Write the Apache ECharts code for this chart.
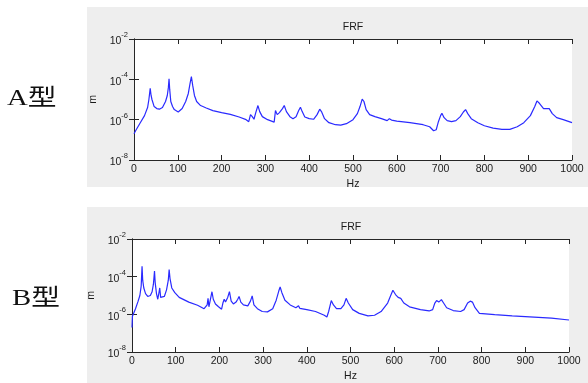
<!DOCTYPE html>
<html>
<head>
<meta charset="utf-8">
<script src="https://cdn.jsdelivr.net/npm/echarts@6/dist/echarts.min.js"></script>
<style>
html,body{margin:0;padding:0;background:#fff;}
#c{width:588px;height:383px;}
</style>
</head>
<body>
<div id="c"></div>
<script>
// Frequency (Hz) and log10 of amplitude (m)
const freqA = [0,5,13,24,31,34,37,39,41,46,52,58,65,72,76,78.5,80,81.5,84,88,92,96,101,110,118,124,128,131,134,138,143,152,165,180,200,220,240,256,262,266,270,274,278,283,287,293,305,320,323,327,332,339,343,348,356,363,370,376,380,384,390,400,410,418,424,428,435,445,460,472,485,500,510,516,521,525,530,538,550,565,578,583,588,600,630,660,675,684,690,695,700,703,708,715,725,735,745,752,757,762,770,785,800,820,840,858,875,890,905,915,920,926,935,942,948,955,965,980,1000];
const logA = [-6.7,-6.5,-6.2,-5.8,-5.4,-5.0,-4.45,-4.8,-5.0,-5.35,-5.45,-5.48,-5.4,-5.1,-4.8,-4.4,-3.97,-4.5,-5.1,-5.35,-5.5,-5.43,-5.62,-5.45,-5.1,-4.7,-4.2,-3.86,-4.3,-4.8,-5.1,-5.3,-5.42,-5.55,-5.65,-5.74,-5.87,-6.0,-6.1,-5.75,-5.85,-5.98,-5.65,-5.3,-5.6,-5.85,-6.0,-6.12,-5.55,-5.75,-5.65,-5.45,-5.3,-5.6,-5.85,-5.95,-5.85,-5.55,-5.38,-5.6,-5.87,-5.95,-5.98,-5.75,-5.48,-5.6,-5.95,-6.15,-6.25,-6.27,-6.2,-6.0,-5.7,-5.35,-4.98,-5.1,-5.5,-5.75,-5.85,-5.95,-6.05,-5.95,-6.02,-6.07,-6.15,-6.25,-6.35,-6.55,-6.5,-6.1,-5.8,-5.68,-5.9,-6.05,-6.1,-6.05,-5.85,-5.62,-5.5,-5.7,-5.95,-6.15,-6.3,-6.42,-6.48,-6.48,-6.35,-6.15,-5.8,-5.35,-5.07,-5.2,-5.45,-5.45,-5.45,-5.7,-5.9,-6.0,-6.15];

const freqB = [0,1,3,8,14,18,21,23,24.5,27,31,36,42,46,49,51.5,53,56,59,62,63.5,65.5,69,74,79,83,85,87,91,98,108,130,150,165,169,172,174,176,179,183,186,191,198,205,208,211,214,219,223,227,232,238,242,245,249,255,265,271,275,279,287,298,310,322,330,336,339,343,350,362,375,379,381,384,400,420,440,446,450,456,461,468,478,485,490,495,505,520,540,555,570,585,592,597,603,609,615,622,635,660,680,688,693,697,702,708,713,720,735,752,760,768,774,779,785,795,830,870,910,960,1000];
const logB = [-6.7,-6.1,-6.0,-5.7,-5.3,-5.0,-4.5,-3.45,-4.2,-4.6,-4.9,-5.05,-5.0,-4.8,-4.4,-3.7,-4.3,-4.9,-5.2,-4.8,-4.6,-5.1,-5.2,-5.05,-4.7,-4.2,-3.62,-4.1,-4.6,-4.85,-5.1,-5.35,-5.52,-5.7,-5.75,-5.5,-5.15,-5.6,-5.55,-4.8,-5.2,-5.45,-5.6,-5.73,-5.4,-5.2,-5.35,-5.1,-4.8,-5.3,-5.45,-5.35,-5.2,-5.05,-5.35,-5.5,-5.55,-5.3,-5.02,-5.5,-5.7,-5.85,-5.87,-5.7,-5.25,-4.75,-4.55,-4.85,-5.25,-5.5,-5.65,-5.6,-5.55,-5.68,-5.75,-5.85,-6.05,-6.14,-5.85,-5.27,-5.5,-5.7,-5.7,-5.5,-5.15,-5.4,-5.75,-5.95,-6.08,-6.05,-5.85,-5.4,-5.0,-4.72,-4.95,-5.1,-5.15,-5.4,-5.6,-5.75,-5.82,-5.75,-5.4,-5.27,-5.35,-5.22,-5.4,-5.65,-5.8,-5.85,-5.75,-5.4,-5.3,-5.35,-5.65,-5.95,-6.02,-6.08,-6.13,-6.2,-6.3];

const xTicks = [0,100,200,300,400,500,600,700,800,900,1000];
const yExponents = [-8,-6,-4,-2];
const panelTitles = ['FRF','FRF'];
const sideLabels = ['A型','B型'];

const toPairs = (f, l) => f.map((x, i) => [x, Math.pow(10, l[i])]);

const axisColor = '#262626';
const labelFont = {fontFamily: 'Liberation Sans, Arial, sans-serif', fontSize: 10.5, color: '#1a1a1a'};

const grids = [
  {left: 134, top: 39, width: 438, height: 121},
  {left: 132, top: 239, width: 437, height: 121}
];

const yMin = Math.pow(10, yExponents[0]);
const yMax = Math.pow(10, yExponents[yExponents.length-1]);
const yStep = yExponents[1] - yExponents[0];

const xAxes = [], yAxes = [], series = [];
grids.forEach((g, i) => {
  xAxes.push({
    gridIndex: i, type: 'value', min: xTicks[0], max: xTicks[xTicks.length-1], interval: xTicks[1] - xTicks[0],
    name: 'Hz', nameLocation: 'middle', nameGap: 19,
    nameTextStyle: {fontFamily: labelFont.fontFamily, fontSize: 10.5, color: '#1a1a1a'},
    axisLine: {show: true, lineStyle: {color: axisColor, width: 1}},
    axisTick: {show: true, inside: true, length: 5, lineStyle: {color: axisColor}},
    axisLabel: Object.assign({margin: 4, formatter: v => String(v)}, labelFont),
    splitLine: {show: false}
  });
  xAxes.push({
    gridIndex: i, type: 'value', position: 'top', min: xTicks[0], max: xTicks[xTicks.length-1], interval: xTicks[1] - xTicks[0],
    axisLine: {show: true, lineStyle: {color: axisColor, width: 1}},
    axisTick: {show: true, inside: true, length: 5, lineStyle: {color: axisColor}},
    axisLabel: {show: false}, splitLine: {show: false}
  });
  yAxes.push({
    gridIndex: i, type: 'log', logBase: 10, min: yMin, max: yMax, interval: yStep,
    name: 'm', nameLocation: 'middle', nameGap: 34, nameRotate: 90,
    nameTextStyle: {fontFamily: labelFont.fontFamily, fontSize: 10.5, color: '#1a1a1a'},
    axisLine: {show: true, lineStyle: {color: axisColor, width: 1}},
    axisTick: {show: true, inside: true, length: 5, lineStyle: {color: axisColor}},
    axisLabel: {
      margin: 6,
      formatter: v => '{b|10}{s|' + Math.round(Math.log10(v)) + '}',
      rich: {
        b: {fontFamily: labelFont.fontFamily, fontSize: 10.5, color: '#1a1a1a', lineHeight: 16, verticalAlign: 'bottom'},
        s: {fontFamily: labelFont.fontFamily, fontSize: 7.5, color: '#1a1a1a', verticalAlign: 'top', lineHeight: 16}
      }
    },
    splitLine: {show: false}
  });
  yAxes.push({
    gridIndex: i, type: 'log', logBase: 10, position: 'right', min: yMin, max: yMax, interval: yStep,
    axisLine: {show: true, lineStyle: {color: axisColor, width: 1}},
    axisTick: {show: true, inside: true, length: 5, lineStyle: {color: axisColor}},
    axisLabel: {show: false}, splitLine: {show: false}
  });
});

series.push({
  type: 'line', xAxisIndex: 0, yAxisIndex: 0, showSymbol: false, symbol: 'none',
  lineStyle: {color: '#2a2aff', width: 1.2}, data: toPairs(freqA, logA), silent: true
});
series.push({
  type: 'line', xAxisIndex: 2, yAxisIndex: 2, showSymbol: false, symbol: 'none',
  lineStyle: {color: '#2a2aff', width: 1.2}, data: toPairs(freqB, logB), silent: true
});

const chart = echarts.init(document.getElementById('c'), null, {renderer: 'canvas'});
chart.setOption({
  animation: false,
  backgroundColor: '#ffffff',
  grid: grids.map(g => Object.assign({show: true, backgroundColor: '#ffffff', borderWidth: 0}, g)),
  xAxis: xAxes,
  yAxis: yAxes,
  series: series,
  graphic: [
    {type: 'rect', z: -10, silent: true, shape: {x: 87, y: 7, width: 501, height: 180}, style: {fill: '#eeeeee'}},
    {type: 'rect', z: -10, silent: true, shape: {x: 87, y: 207, width: 501, height: 176}, style: {fill: '#eeeeee'}},
    {type: 'text', silent: true, x: 353, y: 27, style: {text: panelTitles[0], align: 'center', verticalAlign: 'middle', font: '10.5px "Liberation Sans", Arial, sans-serif', fill: '#1a1a1a'}},
    {type: 'text', silent: true, x: 351, y: 227, style: {text: panelTitles[1], align: 'center', verticalAlign: 'middle', font: '10.5px "Liberation Sans", Arial, sans-serif', fill: '#1a1a1a'}},
    {type: 'text', silent: true, x: 7, y: 99, scaleX: 1.25, style: {text: sideLabels[0], align: 'left', verticalAlign: 'middle', font: '23px "Liberation Serif", "Noto Sans CJK SC", serif', fill: '#111'}},
    {type: 'text', silent: true, x: 12, y: 299, scaleX: 1.25, style: {text: sideLabels[1], align: 'left', verticalAlign: 'middle', font: '23px "Liberation Serif", "Noto Sans CJK SC", serif', fill: '#111'}}
  ]
});
</script>
</body>
</html>
